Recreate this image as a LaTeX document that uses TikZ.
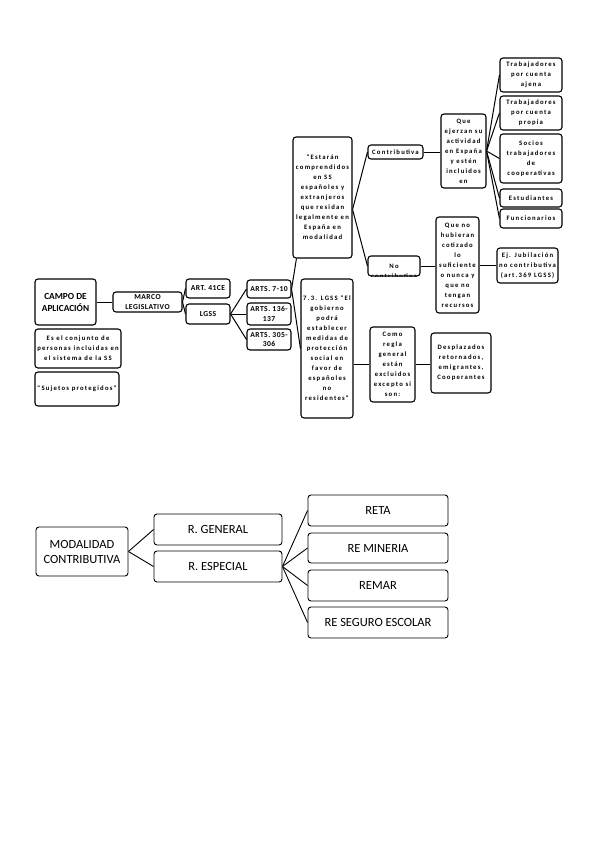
\documentclass[tikz,border=0pt]{standalone}
\usepackage{fontspec}
\setmainfont{Carlito}
\newfontfamily\spacedfont[LetterSpace=18]{Carlito}
\newfontfamily\midfont[LetterSpace=6]{Carlito}
\usetikzlibrary{calc,backgrounds}
\begin{document}
\begin{tikzpicture}[x=1pt,y=-1pt,
  box/.style={draw=black, line width=1.1pt, rounded corners=3pt, fill=white, inner sep=0pt, align=center},
  tiny/.style={font=\spacedfont\bfseries\fontsize{6.7}{10}\selectfont},
  mid/.style={font=\midfont\bfseries\fontsize{7.6}{9.5}\selectfont},
  big/.style={font=\bfseries\fontsize{9.3}{12}\selectfont},
  bbox/.style={draw=black, line width=0.9pt, rounded corners=3pt, fill=white, inner sep=0pt, align=center, font=\fontsize{12.5}{15}\selectfont},
  conn/.style={line width=1pt},
  conn2/.style={line width=0.9pt}]
\useasboundingbox (0,0) rectangle (600,848);

% ---- top diagram nodes
\node[box,big,minimum width=61,minimum height=46] (campo) at (65.5,302) {CAMPO DE\\APLICACIÓN};
\node[box,tiny,minimum width=86,minimum height=39] (conj) at (78,348.5) {Es el conjunto de\\personas incluidas en\\el sistema de la SS};
\node[box,tiny,minimum width=84,minimum height=34] (suj) at (77,389) {"Sujetos protegidos"};
\node[box,mid,minimum width=69,minimum height=20] (marco) at (147.5,302) {MARCO\\LEGISLATIVO};
\node[box,mid,minimum width=44,minimum height=19] (art41) at (208,288.5) {ART. 41CE};
\node[box,mid,minimum width=44,minimum height=20] (lgss) at (208,314) {LGSS};
\node[box,mid,minimum width=44,minimum height=18] (a710) at (269,289) {ARTS. 7-10};
\node[box,mid,minimum width=44,minimum height=22] (a136) at (269,314) {ARTS. 136-\\137};
\node[box,mid,minimum width=44,minimum height=21] (a305) at (269,339.5) {ARTS. 305-\\306};
\node[box,tiny,minimum width=59,minimum height=121] (est) at (322.5,197.5) {"Estarán\\comprendidos\\en SS\\españoles y\\extranjeros\\que residan\\legalmente en\\España en\\modalidad};
\node[box,tiny,minimum width=52,minimum height=139] (s73) at (327,348.5) {7.3. LGSS "El\\gobierno\\podrá\\establecer\\medidas de\\protección\\social en\\favor de\\españoles\\no\\residentes"};
\node[box,tiny,minimum width=55,minimum height=14] (contrib) at (395.5,152) {Contributiva};
\node[box,minimum width=52,minimum height=20] (nocon) at (394,266) {};
\begin{scope}
  \clip (nocon.south west) rectangle (nocon.north east);
  \node[tiny,align=center,anchor=north,inner sep=0pt] (nocontxt) at ($(nocon.north)+(0,9)$) {No\\contributiva};
\end{scope}
\node[box,tiny,minimum width=45,minimum height=74] (ejerzan) at (463.5,151) {Que\\ejerzan su\\actividad\\en España\\y estén\\incluidos\\en};
\node[box,tiny,minimum width=62,minimum height=34] (taj) at (531,75) {Trabajadores\\por cuenta\\ajena};
\node[box,tiny,minimum width=62,minimum height=34] (tpr) at (531,113) {Trabajadores\\por cuenta\\propia};
\node[box,tiny,minimum width=62,minimum height=49] (soc) at (531,158.5) {Socios\\trabajadores\\de\\cooperativas};
\node[box,tiny,minimum width=62,minimum height=18] (estud) at (531,198) {Estudiantes};
\node[box,tiny,minimum width=62,minimum height=19] (func) at (531,218.5) {Funcionarios};
\node[box,tiny,minimum width=43,minimum height=96] (queno) at (457.5,265) {Que no\\hubieran\\cotizado\\lo\\suficiente\\o nunca y\\que no\\tengan\\recursos};
\node[box,tiny,minimum width=61,minimum height=35] (ej) at (527.5,265.5) {Ej. Jubilación\\no contributiva\\(art.369 LGSS)};
\node[box,tiny,minimum width=45,minimum height=75] (como) at (392.5,364.5) {Como\\regla\\general\\están\\excluidos\\excepto si\\son:};
\node[box,tiny,minimum width=60,minimum height=60] (desp) at (461,363) {Desplazados\\retornados,\\emigrantes,\\Cooperantes};

% ---- bottom diagram nodes
\node[bbox,minimum width=92,minimum height=49] (mod) at (82,551.5) {MODALIDAD\\CONTRIBUTIVA};
\node[bbox,minimum width=128,minimum height=31] (rgen) at (218,529.5) {R. GENERAL};
\node[bbox,minimum width=128,minimum height=31] (resp) at (218,566.5) {R. ESPECIAL};
\node[bbox,minimum width=140,minimum height=31] (reta) at (378,510.5) {RETA};
\node[bbox,minimum width=140,minimum height=30] (rmin) at (378,548) {RE MINERIA};
\node[bbox,minimum width=140,minimum height=31] (remar) at (378,585.5) {REMAR};
\node[bbox,minimum width=140,minimum height=31] (rseg) at (378,622.5) {RE SEGURO ESCOLAR};

% ---- connectors
\begin{pgfonlayer}{background}
\draw[conn] (campo.east) -- (marco.west);
\draw[conn] (marco.east) -- (art41.west);
\draw[conn] (marco.east) -- (lgss.west);
\draw[conn] (lgss.east) -- (a710.west);
\draw[conn] (lgss.east) -- (a136.west);
\draw[conn] (lgss.east) -- (a305.west);
\draw[conn] (a710.east) -- ($(est.south west)+(4,0)$);
\draw[conn] (a710.east) -- (s73.west);
\coordinate (estR) at ($(est.east)+(0,12)$);
\draw[conn] (estR) -- (contrib.west);
\draw[conn] (estR) -- (nocon.west);
\draw[conn] (contrib.east) -- (ejerzan.west |- contrib.east);
\draw[conn] (ejerzan.east) -- (taj.west);
\draw[conn] (ejerzan.east) -- (tpr.west);
\draw[conn] (ejerzan.east) -- (soc.west);
\draw[conn] (ejerzan.east) -- (estud.west);
\draw[conn] (ejerzan.east) -- (func.west);
\draw[conn] (nocon.east) -- (queno.west |- nocon.east);
\draw[conn] (queno.east) -- (ej.west |- queno.east);
\draw[conn] (s73.east |- como.west) -- (como.west);
\draw[conn] (como.east) -- (desp.west |- como.east);
\draw[conn2] (mod.east) -- (rgen.west);
\draw[conn2] (mod.east) -- (resp.west);
\draw[conn2] (resp.east) -- (reta.west);
\draw[conn2] (resp.east) -- (rmin.west);
\draw[conn2] (resp.east) -- (remar.west);
\draw[conn2] (resp.east) -- (rseg.west);
\end{pgfonlayer}
\end{tikzpicture}
\end{document}
